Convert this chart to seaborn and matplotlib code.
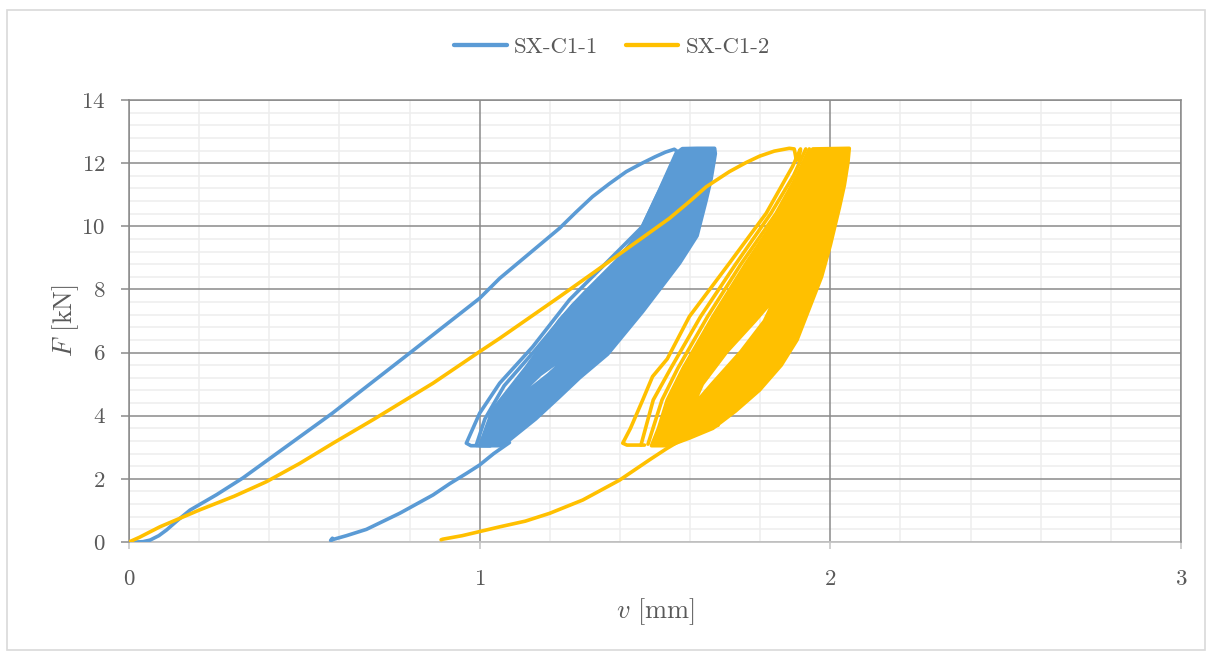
import matplotlib
matplotlib.use("Agg")
import matplotlib.pyplot as plt
from matplotlib.path import Path
from matplotlib.patches import PathPatch, Rectangle
from matplotlib.lines import Line2D
from matplotlib.ticker import MultipleLocator
import numpy as np
import seaborn as sns

# ---- data (v in mm, F in kN) ----
SERIES = ["SX-C1-1", "SX-C1-2"]

# SX-C1-1: first loading to peak and first unloading branch
C1_LOAD_V = [0, 0.02, 0.04, 0.06, 0.085, 0.107, 0.14, 0.174, 0.25, 0.325, 0.58, 0.80, 1.0, 1.057, 1.228,
             1.275, 1.322, 1.37, 1.418, 1.46, 1.50, 1.53, 1.555, 1.565, 1.541, 1.464, 1.256, 1.151,
             1.057, 1.0, 0.962, 0.975, 1.03]
C1_LOAD_F = [0, 0.0, 0.01, 0.06, 0.2, 0.38, 0.7, 1.01, 1.5, 2.03, 4.08, 5.98, 7.72, 8.35, 9.94,
             10.45, 10.94, 11.35, 11.73, 11.98, 12.2, 12.35, 12.44, 12.36, 11.78, 9.99, 7.67, 6.18,
             5.03, 4.08, 3.13, 3.05, 3.05]
# second visible cycle branch
C1_LOOP_V = [1.03, 0.99, 1.015, 1.07, 1.16, 1.265, 1.39, 1.47, 1.525, 1.565, 1.59]
C1_LOOP_F = [3.05, 3.06, 3.9, 4.95, 6.1, 7.5, 8.9, 10.0, 11.2, 12.3, 12.45]
# envelope of the dense cyclic band
C1_BAND_V = [1.0, 1.037, 1.134, 1.228, 1.30, 1.418, 1.464, 1.513, 1.56, 1.578, 1.62, 1.67, 1.672, 1.66,
             1.646, 1.62, 1.57, 1.52, 1.465, 1.365, 1.285, 1.228, 1.16, 1.085, 1.06]
C1_BAND_F = [3.05, 4.18, 5.55, 7.03, 7.9, 9.2, 9.99, 11.15, 12.31, 12.46, 12.47, 12.47, 12.3, 11.5,
             10.83, 9.7, 8.83, 8.1, 7.3, 5.95, 5.2, 4.6, 3.9, 3.23, 3.05]
C1_HOLE_V = [1.11, 1.15, 1.196, 1.235, 1.27, 1.222, 1.172, 1.135]
C1_HOLE_F = [4.5, 4.9, 5.3, 5.7, 6.15, 5.7, 5.3, 4.9]
# final unloading
C1_UNLOAD_V = [1.085, 1.04, 1.0, 0.962, 0.915, 0.867, 0.772, 0.677, 0.62, 0.585, 0.575, 0.58]
C1_UNLOAD_F = [3.15, 2.8, 2.44, 2.17, 1.85, 1.49, 0.91, 0.40, 0.2, 0.09, 0.05, 0.12]

# SX-C1-2
C2_LOAD_V = [0, 0.03, 0.088, 0.2, 0.3, 0.392, 0.487, 0.582, 0.7, 0.867, 1.0, 1.057, 1.228, 1.322,
             1.541, 1.60, 1.646, 1.712, 1.76, 1.798, 1.84, 1.883, 1.897, 1.903, 1.91, 1.915, 1.892,
             1.817, 1.712, 1.598, 1.535, 1.493, 1.465, 1.43, 1.408, 1.42, 1.47]
C2_LOAD_F = [0, 0.15, 0.48, 1.01, 1.45, 1.91, 2.49, 3.13, 3.9, 5.03, 6.03, 6.45, 7.77, 8.51,
             10.25, 10.8, 11.25, 11.73, 12.02, 12.22, 12.38, 12.47, 12.45, 12.1, 12.1, 12.45, 11.89,
             10.41, 8.83, 7.14, 5.8, 5.24, 4.5, 3.6, 3.13, 3.07, 3.07]
C2_LOOP_V = [1.46, 1.495, 1.545, 1.63, 1.73, 1.83, 1.895, 1.93]
C2_LOOP_F = [3.07, 4.5, 5.5, 7.14, 8.8, 10.4, 11.6, 12.45]
C2_LOOP3_V = [1.48, 1.52, 1.565, 1.65, 1.745, 1.845, 1.905, 1.94]
C2_LOOP3_F = [3.1, 4.5, 5.5, 7.14, 8.8, 10.4, 11.6, 12.45]
C2_BAND_V = [1.49, 1.51, 1.535, 1.58, 1.665, 1.76, 1.855, 1.92, 1.95, 2.054, 2.05, 2.04, 2.026, 2.0,
             1.975, 1.94, 1.905, 1.86, 1.798, 1.73, 1.665, 1.6, 1.54]
C2_BAND_F = [3.05, 3.6, 4.5, 5.5, 7.14, 8.83, 10.41, 11.89, 12.45, 12.47, 12.0, 11.3, 10.6, 9.4,
             8.4, 7.4, 6.4, 5.6, 4.81, 4.15, 3.6, 3.3, 3.05]
C2_HOLE_V = [1.607, 1.662, 1.745, 1.812, 1.845, 1.785, 1.705, 1.635]
C2_HOLE_F = [4.29, 5.0, 6.03, 7.0, 7.77, 7.0, 6.03, 5.0]
C2_UNLOAD_V = [1.68, 1.607, 1.532, 1.484, 1.399, 1.294, 1.2, 1.13, 1.057, 0.95, 0.895, 0.89]
C2_UNLOAD_F = [3.7, 3.45, 2.95, 2.6, 1.96, 1.33, 0.91, 0.66, 0.48, 0.2, 0.09, 0.07]

COLORS = ["#5B9BD5", "#FFC000"]
LW = 2.6
GRID_DARK = "#8a8a8a"


def band_patch(bv, bF, hv, hF, color):
    outer = np.column_stack([bv, bF])
    hole = np.column_stack([hv, hF])

    def area(p):
        x, y = p[:, 0], p[:, 1]
        return 0.5 * np.sum(x * np.roll(y, -1) - np.roll(x, -1) * y)

    if np.sign(area(outer)) == np.sign(area(hole)):
        hole = hole[::-1]
    verts = np.vstack([outer, outer[:1], hole, hole[:1]])
    codes = ([Path.MOVETO] + [Path.LINETO] * (len(outer) - 1) + [Path.CLOSEPOLY]
             + [Path.MOVETO] + [Path.LINETO] * (len(hole) - 1) + [Path.CLOSEPOLY])
    return PathPatch(Path(verts, codes), facecolor=color, edgecolor=color, lw=LW,
                     joinstyle="round", zorder=2)


sns.set_theme(style="white")
plt.rcParams["font.family"] = ["cmr10", "DejaVu Serif"]
plt.rcParams["mathtext.fontset"] = "cm"
plt.rcParams["axes.formatter.use_mathtext"] = True

fig = plt.figure(figsize=(12.13, 6.55), dpi=100)
ax = fig.add_axes([129 / 1213, 113 / 655, 1052 / 1213, 442 / 655])

specimens = [
    (C1_LOAD_V, C1_LOAD_F, [(C1_LOOP_V, C1_LOOP_F)], C1_BAND_V, C1_BAND_F, C1_HOLE_V, C1_HOLE_F,
     C1_UNLOAD_V, C1_UNLOAD_F),
    (C2_LOAD_V, C2_LOAD_F, [(C2_LOOP_V, C2_LOOP_F), (C2_LOOP3_V, C2_LOOP3_F)], C2_BAND_V, C2_BAND_F,
     C2_HOLE_V, C2_HOLE_F, C2_UNLOAD_V, C2_UNLOAD_F),
]

for color, (lv, lf, loops, bv, bf, hv, hf, uv, uf) in zip(COLORS, specimens):
    ax.add_patch(band_patch(bv, bf, hv, hf, color))
    for xv, yv in [(lv, lf)] + loops + [(uv, uf)]:
        sns.lineplot(x=xv, y=yv, sort=False, estimator=None, color=color, lw=LW, ax=ax,
                     solid_joinstyle="round", solid_capstyle="round", zorder=3)

ax.set_xlim(0, 3)
ax.set_ylim(0, 14)
ax.xaxis.set_major_locator(MultipleLocator(1))
ax.xaxis.set_minor_locator(MultipleLocator(0.2))
ax.yaxis.set_major_locator(MultipleLocator(2))
ax.yaxis.set_minor_locator(MultipleLocator(0.4))

# light minor grid underneath the dark major grid
ax.set_axisbelow(True)
ax.grid(which="major", color=GRID_DARK, lw=1.1)
ax.vlines(ax.xaxis.get_minorticklocs(), 0, 14, color="#eeeeee", lw=1.1, zorder=0.3)
ax.hlines(ax.yaxis.get_minorticklocs(), 0, 3, color="#eeeeee", lw=1.1, zorder=0.3)

for side in ["left", "top", "right"]:
    ax.spines[side].set_color(GRID_DARK)
    ax.spines[side].set_linewidth(1.1)
ax.spines["bottom"].set_color("#c4c4c4")
ax.spines["bottom"].set_linewidth(1.3)
ax.spines["bottom"].set_zorder(0.6)

ax.tick_params(axis="y", which="major", length=6, width=1.1, color=GRID_DARK, pad=11,
               labelsize=16.5, labelcolor="#595959", left=True)
ax.tick_params(axis="x", which="major", length=5, width=1.1, color="#c4c4c4", pad=15,
               labelsize=16.5, labelcolor="#595959", bottom=True)
ax.tick_params(which="minor", length=0)

ax.set_xlabel(r"$v$ [mm]", fontsize=19, color="#595959", labelpad=5)
ax.set_ylabel(r"$F$ [kN]", fontsize=19, color="#595959", labelpad=0)

handles = [Line2D([], [], color=c, lw=LW + 0.5, solid_capstyle="round") for c in COLORS]
fig.legend(handles, SERIES, loc="center", bbox_to_anchor=(612 / 1213, 1 - 47 / 655), ncol=2,
           frameon=False, fontsize=16.5, handlelength=2.3, handletextpad=0.3, columnspacing=1.2,
           labelcolor="#595959")

fig.add_artist(Rectangle((7 / 1213, 5 / 655), 1198 / 1213, 640 / 655, transform=fig.transFigure,
                         fill=False, ec="#d9d9d9", lw=1.2))

fig.savefig("out.png", dpi=100)
